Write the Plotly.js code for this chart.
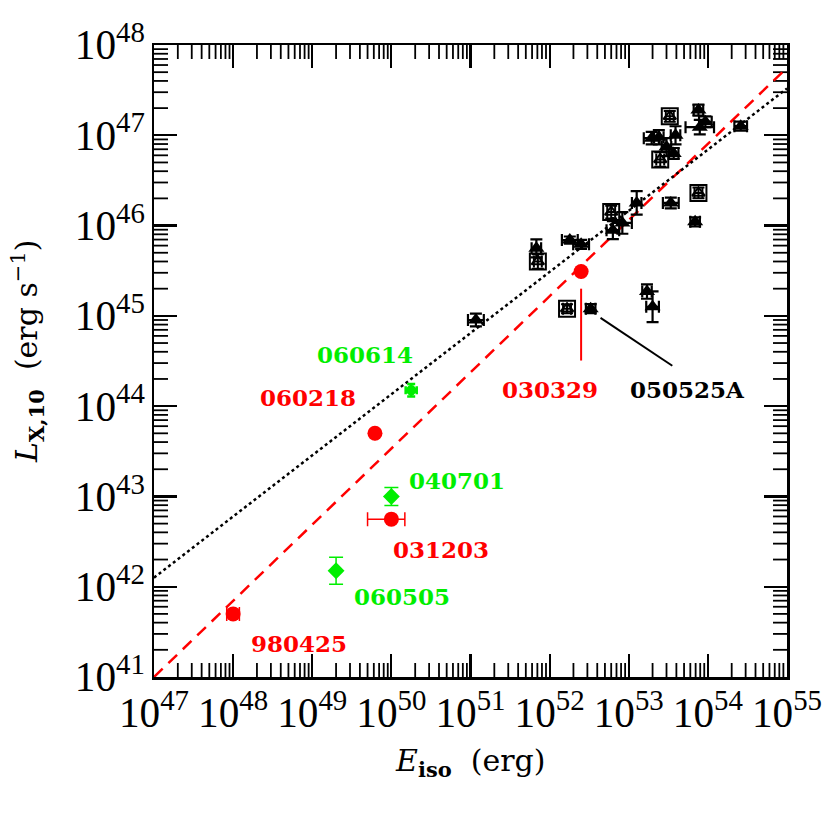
<!DOCTYPE html>
<html><head><meta charset="utf-8">
<script src="https://cdn.plot.ly/plotly-3.0.1.min.js"></script>
<style>body{margin:0;background:#fff}#plot{width:830px;height:830px}</style>
</head><body><div id="plot"></div>
<script>
// ---- Black GRBs (filled triangles) ----
const blkE   = [1.17e51, 6.8e51, 1.8e52, 2.5e52, 6.3e52, 8.3e52, 1.26e53, 3.4e53, 6.9e53, 1.7e53, 2.0e53, 3.3e52, 7.6e53, 9.3e53, 7.9e53, 2.6e54, 1.95e53, 2.4e53, 3.9e53, 3.0e53, 3.7e53];
const blkL   = [9.0e44, 5.6e45, 6.9e45, 6.2e45, 8.9e45, 1.07e46, 1.78e46, 1.78e46, 1.10e46, 1.86e45, 1.26e45, 1.20e45, 1.9e47, 1.41e47, 1.23e47, 1.26e47, 9.3e46, 9.5e46, 1.0e47, 7.4e46, 6.3e46];
const blkEerrDex = [0.10, 0.06, 0.10, 0.10, 0.08, 0.12, 0.06, 0.10, 0.06, 0.06, 0.08, 0.06, 0.06, 0.08, 0.18, 0.08, 0.10, 0.06, 0.06, 0.06, 0.06];
const blkLerrDex = [0.07, 0.10, 0.04, 0.05, 0.10, 0.12, 0.13, 0.06, 0.05, 0.08, 0.17, 0.05, 0.06, 0.06, 0.08, 0.05, 0.07, 0.08, 0.10, 0.10, 0.06];
// ---- Black GRBs (open squares) ----
const sqE   = [7.1e51, 6.0e52, 7.6e53, 1.66e52, 3.3e53, 2.5e53];
const sqL   = [4.0e45, 1.41e46, 2.3e46, 1.20e45, 1.62e47, 5.4e46];
const sqEerrDex = [0.05, 0.05, 0.05, 0.05, 0.05, 0.05];
const sqLerrDex = [0.08, 0.07, 0.06, 0.05, 0.06, 0.08];
// ---- Red GRBs ----
const redNames = ["980425", "060218", "031203", "030329"];
const redE  = [1.0e48, 6.2e49, 1.0e50, 2.5e52];
const redL  = [5.0e41, 5.0e43, 5.6e42, 3.1e45];
const redEhi = [1.2e48, 6.2e49, 1.48e50, 2.5e52];
const redElo = [0.83e48, 6.2e49, 5.0e49, 2.5e52];
// ---- Green GRBs ----
const grnNames = ["060614", "040701", "060505"];
const grnE  = [1.78e50, 1.0e50, 2.0e49];
const grnL  = [1.5e44, 1.0e43, 1.5e42];
const grnEerrDex = [0.07, 0, 0];
const grnLerrDex = [0.07, 0.10, 0.15];
// ---- Fit lines (end points) ----
const dashE = [1e47, 1e55];
const dashL = [1e41, 5.6e47];
const dotE  = [1e47, 1e55];
const dotL  = [1.26e42, 3.3e47];
// ---- Pointer lines ----
const ptr030329E = [2.5e52, 2.5e52];
const ptr030329L = [2.0e45, 3.2e44];
const ptr050525E = [4.4e52, 3.55e53];
const ptr050525L = [9.5e44, 2.8e44];
// ---- Axis ranges / minor ticks ----
const xMin = 1e47, xMax = 1e55, yMin = 1e41, yMax = 1e48;
const xDecades = [47, 48, 49, 50, 51, 52, 53, 54];
const yDecades = [41, 42, 43, 44, 45, 46, 47];
const minorMult = [2, 3, 4, 5, 6, 7, 8, 9];
// ---- Axis titles ----
const xTitle = '<i>E</i><sub><b>iso</b></sub>  (erg)';
const yTitle = '<i>L</i><sub><b>X,10</b></sub>  (erg s<sup>−1</sup>)';

const up = (v, d) => v.map((x, i) => x * (Math.pow(10, d[i]) - 1));
const dn = (v, d) => v.map((x, i) => x * (1 - Math.pow(10, -d[i])));
const minorVals = (decs) => decs.flatMap(d => minorMult.map(m => m * Math.pow(10, d)));
const xMinor = minorVals(xDecades);
const yMinor = minorVals(yDecades);

const GREEN = '#00ee00';
const tickMark = (sym) => ({symbol: sym, size: 20, color: 'black', line: {width: 1.8, color: 'black'}});
const traces = [
  // minor ticks (markers centred on the frame, clipped to the plot area)
  {x: xMinor, y: xMinor.map(() => yMin), mode: 'markers', marker: tickMark('line-ns-open'), cliponaxis: true},
  {x: xMinor, y: xMinor.map(() => yMax), mode: 'markers', marker: tickMark('line-ns-open'), cliponaxis: true},
  {x: yMinor.map(() => xMin), y: yMinor, mode: 'markers', marker: tickMark('line-ew-open'), cliponaxis: true},
  {x: yMinor.map(() => xMax), y: yMinor, mode: 'markers', marker: tickMark('line-ew-open'), cliponaxis: true},
  {x: dashE, y: dashL, mode: 'lines', line: {color: 'red', dash: '12px,8px', width: 2.5}},
  {x: dotE, y: dotL, mode: 'lines', line: {color: 'black', dash: 'dot', width: 2.5}},
  {x: ptr030329E, y: ptr030329L, mode: 'lines', line: {color: 'red', width: 2}},
  {x: ptr050525E, y: ptr050525L, mode: 'lines', line: {color: 'black', width: 2}},
  {x: sqE, y: sqL, mode: 'markers',
   marker: {symbol: 'square-open', size: 16, color: 'black', line: {width: 2}},
   error_x: {type: 'data', array: up(sqE, sqEerrDex), arrayminus: dn(sqE, sqEerrDex), color: 'black', thickness: 2, width: 6},
   error_y: {type: 'data', array: up(sqL, sqLerrDex), arrayminus: dn(sqL, sqLerrDex), color: 'black', thickness: 2, width: 6}},
  {x: sqE, y: sqL, mode: 'markers',
   marker: {symbol: 'triangle-up-open', size: 11, color: 'black', line: {width: 2}}},
  {x: blkE, y: blkL, mode: 'markers',
   marker: {symbol: 'triangle-up', size: 14, color: 'black'},
   error_x: {type: 'data', array: up(blkE, blkEerrDex), arrayminus: dn(blkE, blkEerrDex), color: 'black', thickness: 2.2, width: 6},
   error_y: {type: 'data', array: up(blkL, blkLerrDex), arrayminus: dn(blkL, blkLerrDex), color: 'black', thickness: 2.2, width: 6}},
  {x: redE, y: redL, mode: 'markers',
   marker: {symbol: 'circle', size: 15, color: 'red'},
   error_x: {type: 'data', array: redE.map((v, i) => redEhi[i] - v), arrayminus: redE.map((v, i) => v - redElo[i]), color: 'red', thickness: 1.5, width: 7}},
  {x: [grnE[0]], y: [grnL[0]], mode: 'markers',
   marker: {symbol: 'octagon', size: 11, color: GREEN},
   error_x: {type: 'data', array: up([grnE[0]], [grnEerrDex[0]]), arrayminus: dn([grnE[0]], [grnEerrDex[0]]), color: GREEN, thickness: 2.5, width: 4},
   error_y: {type: 'data', array: up([grnL[0]], [grnLerrDex[0]]), arrayminus: dn([grnL[0]], [grnLerrDex[0]]), color: GREEN, thickness: 2.5, width: 4}},
  {x: grnE.slice(1), y: grnL.slice(1), mode: 'markers',
   marker: {symbol: 'diamond', size: 13, color: GREEN},
   error_y: {type: 'data', array: up(grnL.slice(1), grnLerrDex.slice(1)), arrayminus: dn(grnL.slice(1), grnLerrDex.slice(1)), color: GREEN, thickness: 1.5, width: 7}}
];

const lblFont = (c) => ({family: 'DejaVu Serif', size: 23, color: c, weight: 'bold'});
const ann = (t, x, y, c) => ({text: t, x: x, y: y, xref: 'x', yref: 'y', showarrow: false, font: lblFont(c), xanchor: 'center', yanchor: 'middle'});
const titleFont = {family: 'DejaVu Serif', size: 30, color: 'black'};
const annotations = [
  ann(grnNames[0], 49.67, 44.57, GREEN),
  ann(redNames[1], 48.94, 44.10, 'red'),
  ann(grnNames[1], 50.83, 43.18, GREEN),
  ann(redNames[2], 50.63, 42.41, 'red'),
  ann(grnNames[2], 50.14, 41.89, GREEN),
  ann(redNames[0], 48.83, 41.37, 'red'),
  ann(redNames[3], 52.0, 44.18, 'red'),
  ann("050525A", 53.74, 44.18, 'black'),
  {text: xTitle, xref: 'paper', yref: 'paper', x: 0.5, y: -0.135, showarrow: false, font: titleFont, xanchor: 'center', yanchor: 'middle'},
  {text: yTitle, xref: 'paper', yref: 'paper', x: -0.2, y: 0.515, showarrow: false, font: titleFont, textangle: -90, xanchor: 'center', yanchor: 'middle'}
];

const axCommon = {
  type: 'log', showgrid: false, zeroline: false, showline: true, linecolor: 'black', linewidth: 2.5,
  mirror: 'allticks', ticks: 'inside', ticklen: 23, tickwidth: 2.2, tickcolor: 'black',
  dtick: 1, exponentformat: 'power',
  tickfont: {family: 'Liberation Serif', size: 33, color: 'black'}
};

const layout = {
  width: 830, height: 830, showlegend: false,
  margin: {l: 154, r: 43, t: 45, b: 153},
  xaxis: Object.assign({}, axCommon, {range: [Math.log10(xMin), Math.log10(xMax)]}),
  yaxis: Object.assign({}, axCommon, {range: [Math.log10(yMin), Math.log10(yMax)]}),
  annotations: annotations
};

Plotly.newPlot('plot', traces, layout, {staticPlot: true});
</script></body></html>
